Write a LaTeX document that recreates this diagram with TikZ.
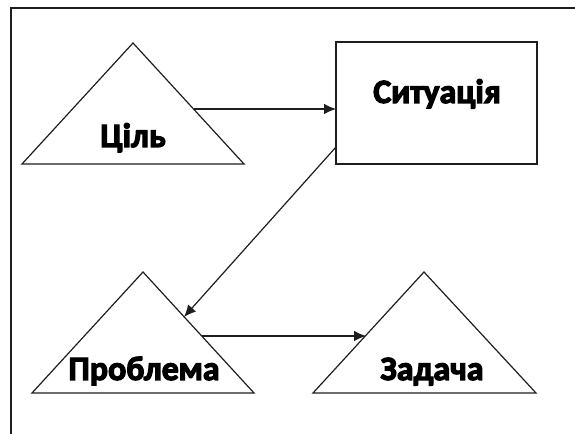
\documentclass[tikz,border=0pt]{standalone}
\usepackage{fontspec}
\setmainfont{Carlito}
\newfontfamily\headfont{Carlito}[FakeBold=3.5]
\usetikzlibrary{arrows.meta}

\tikzset{
  edge/.style={draw={rgb,255:red,30;green,30;blue,30}, line width=0.9},
  link/.style={edge, -{Latex[length=9pt,width=8pt]}},
  label/.style={inner sep=0pt, anchor=base, font=\fontsize{25.5}{30}\selectfont\headfont\bfseries}
}

\begin{document}
\begin{tikzpicture}[x=0.75pt,y=0.75pt,yscale=-1]
\useasboundingbox (0,0) rectangle (575,434);

%Frame
\draw [edge]  (575,8) -- (11,8) -- (11,434) ;

%Shape: Triangle [goal]
\coordinate (goal-top) at (133,43);
\coordinate (goal-left) at (22,164);
\coordinate (goal-right) at (244,164);
\draw [edge]  (goal-top) -- (goal-right) -- (goal-left) -- cycle ;
%Shape: Rectangle [situation]
\node (sit) [edge, minimum width=150.75pt, minimum height=91.5pt, inner sep=0pt] at (436.5,103) {};
%Shape: Triangle [problem]
\coordinate (prob-top) at (143,272);
\coordinate (prob-left) at (32,393);
\coordinate (prob-right) at (254,393);
\draw [edge]  (prob-top) -- (prob-right) -- (prob-left) -- cycle ;
%Shape: Triangle [task]
\coordinate (task-top) at (424,272);
\coordinate (task-left) at (313,393);
\coordinate (task-right) at (536,393);
\draw [edge]  (task-top) -- (task-right) -- (task-left) -- cycle ;

% Arrow ends on the borders
\coordinate (goal-out) at (194,109);
\coordinate (sit-in) at (336,109);
\coordinate (sit-out) at (336,147);
\coordinate (prob-in) at (184,317);
\coordinate (prob-out) at (202,336);
\coordinate (task-in) at (366,336);

%Straight Lines
\draw [link]  (goal-out) -- (sit-in) ;
\draw [link]  (sit-out) -- (prob-in) ;
\draw [link]  (prob-out) -- (task-in) ;

% Text Node
\node (goal-text) [label] at (133,147) {Ціль};
% Text Node
\node (sit-text) [label] at (437,103) {Ситуація};
% Text Node
\node (prob-text) [label] at (144,380) {Проблема};
% Text Node
\node (task-text) [label] at (432,380) {Задача};

\end{tikzpicture}
\end{document}
